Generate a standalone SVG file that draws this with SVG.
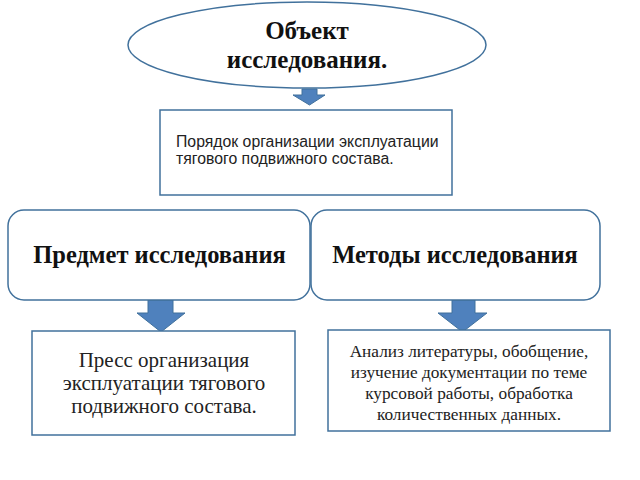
<svg xmlns="http://www.w3.org/2000/svg" width="640" height="480" viewBox="0 0 640 480">
<style>
.shape{fill:#ffffff;stroke:#41719c;stroke-width:1.5}
.arrow{fill:#4f81bd;stroke:#41719c;stroke-width:1}
.hd{font-family:"Liberation Serif","Times New Roman",serif;font-weight:bold;fill:#111;text-anchor:middle}
.sr{font-family:"Liberation Serif","Times New Roman",serif;fill:#222;text-anchor:middle}
.ss{font-family:"Liberation Sans",Arial,sans-serif;fill:#222}
</style>
<rect width="640" height="480" fill="#ffffff"/>
<g id="connectors">
<path class="arrow" d="M302,89 H317 V95 H325 L309.5,105 L293,95 H302 Z"/>
<path class="arrow" d="M148,300 H173 V313 H185 L161,332 L137,313 H148 Z"/>
<path class="arrow" d="M452,300 H475 V313 H487 L462.5,332 L438,313 H452 Z"/>
</g>
<g id="object">
<ellipse class="shape" cx="307" cy="45" rx="179" ry="43"/>
<text class="hd" x="307" y="39" font-size="25">Объект</text>
<text class="hd" x="307" y="68" font-size="25">исследования.</text>
</g>
<g id="order">
<rect class="shape" x="160" y="110" width="292" height="85"/>
<text class="ss" x="176" y="147" font-size="15.8">Порядок организации эксплуатации</text>
<text class="ss" x="176" y="164" font-size="15.8">тягового подвижного состава.</text>
</g>
<g id="subject">
<rect class="shape" x="8" y="210" width="302" height="90" rx="16"/>
<text class="hd" x="159.5" y="263" font-size="24.5">Предмет исследования</text>
</g>
<g id="methods">
<rect class="shape" x="311" y="210" width="289" height="90" rx="16"/>
<text class="hd" x="455" y="263" font-size="24.5">Методы исследования</text>
</g>
<g id="subject-desc">
<rect class="shape" x="32" y="331" width="263" height="104"/>
<text class="sr" x="164" y="367" font-size="21">Пресс организация</text>
<text class="sr" x="164" y="390" font-size="21">эксплуатации тягового</text>
<text class="sr" x="164" y="413" font-size="21">подвижного состава.</text>
</g>
<g id="methods-desc">
<rect class="shape" x="328" y="330" width="282" height="101"/>
<text class="sr" x="469" y="357" font-size="17.3">Анализ литературы, обобщение,</text>
<text class="sr" x="469" y="378" font-size="17.3">изучение документации по теме</text>
<text class="sr" x="469" y="399" font-size="17.3">курсовой работы, обработка</text>
<text class="sr" x="469" y="420" font-size="17.3">количественных данных.</text>
</g>
</svg>
